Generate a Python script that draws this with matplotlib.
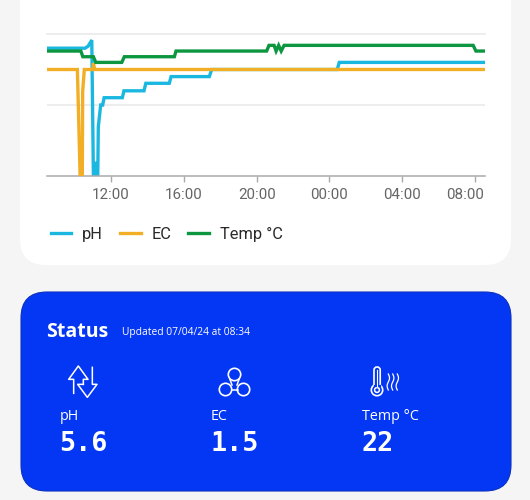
import numpy as np
import matplotlib
matplotlib.use('Agg')
from matplotlib import pyplot as plt
from matplotlib.patches import FancyBboxPatch, Circle
from matplotlib.transforms import ScaledTranslation

# hours since midnight of the first day
ph_hours = [8.48, 10.41, 10.57, 10.74, 10.94, 11.03, 11.07, 11.12, 11.18, 11.27, 11.30, 11.43, 11.54, 11.62,
            12.62, 12.71, 13.81, 13.91, 15.20, 15.30, 17.40, 17.53, 24.43, 24.54, 32.55]
ph_values = [6.3, 6.3, 6.3, 6.4, 6.7, 0, 0, 0.7, 0, 0, 2.43, 3.5, 3.5, 3.86,
             3.86, 4.2, 4.2, 4.57, 4.57, 4.9, 4.9, 5.25, 5.25, 5.6, 5.6]
ec_hours = [8.48, 10.15, 10.30, 10.42, 10.44, 10.53, 11.0, 11.03, 11.1, 32.55]
ec_values = [1.5, 1.5, 0, 0, 1.19, 1.5, 1.5, 1.59, 1.5, 1.5]
temp_hours = [8.48, 10.34, 10.45, 11.03, 11.16, 12.59, 12.73, 15.48, 15.57, 20.55, 20.68,
              20.96, 21.07, 21.21, 21.35, 21.51, 31.9, 32.05, 32.55]
temp_values = [22, 22, 21, 21, 20, 20, 21, 21, 22, 22, 23,
               23, 22, 23, 22, 23, 23, 22, 22]

tick_hours = [12, 16, 20, 24, 28, 32]
tick_labels = ['12:00', '16:00', '20:00', '00:00', '04:00', '08:00']
status_labels = ['pH', 'EC', 'Temp °C']
status_values = ['5.6', '1.5', '22']
status_x = [60, 211, 362]

BLUE = '#0437f4'
W, H = 530, 500
fig = plt.figure(figsize=(5.3, 5.0), dpi=100, facecolor='#f5f5f5')

# background layer in pixel coordinates
bg = fig.add_axes([0, 0, 1, 1])
bg.set_xlim(0, W)
bg.set_ylim(H, 0)
bg.axis('off')
bg.add_patch(FancyBboxPatch((20, -60), 491, 325, boxstyle='round,pad=0,rounding_size=26', fc='white', ec='none'))
bg.add_patch(FancyBboxPatch((21, 292), 490, 199, boxstyle='round,pad=0,rounding_size=26', fc=BLUE, ec='#0a30c0', lw=0.8))

# chart
ax = fig.add_axes([47 / W, 1 - 176 / H, (485 - 47) / W, 142 / H])
ax.patch.set_alpha(0)
ax_ec = ax.twinx()
ax_temp = ax.twinx()
l1, = ax.plot(ph_hours, ph_values, color='#1ab8e0', lw=2.4, solid_joinstyle='miter', label='pH')
l2, = ax_ec.plot(ec_hours, ec_values, color='#f2ae24', lw=2.4, solid_joinstyle='miter', label='EC')
l3, = ax_temp.plot(temp_hours, temp_values, color='#0c9640', lw=2.4, solid_joinstyle='miter', label='Temp °C')
ax.set_xlim(8.48, 32.55)
ax.set_ylim(0, 7)
ax_ec.set_ylim(0, 2)
ax_temp.set_ylim(0, 25)
for a in (ax_ec, ax_temp):
    a.axis('off')
for s in ['top', 'left', 'right']:
    ax.spines[s].set_visible(False)
ax.spines['bottom'].set_color('#aaaaaa')
ax.spines['bottom'].set_linewidth(1.1)
ax.set_yticks([])
ax.axhline(3.5, color='#e8e8e8', lw=1.1, zorder=0)
ax.axhline(7, color='#e8e8e8', lw=1.1, zorder=0, clip_on=False)
ax.set_xticks(tick_hours)
ax.set_xticklabels(tick_labels, family='Roboto', fontsize=10.9, color='#666666')
ax.tick_params(axis='x', length=4.5, width=1, color='#aaaaaa', pad=4)
# last label is pushed inside the plot edge
last = ax.get_xticklabels()[-1]
last.set_transform(last.get_transform() + ScaledTranslation(-10 / 100, 0, fig.dpi_scale_trans))

fig.legend(handles=[l1, l2, l3], loc='lower left', bbox_to_anchor=(51 / W, 1 - 242 / H), ncol=3, frameon=False,
           prop={'family': 'Roboto', 'size': 11.8}, labelcolor='#2a2a2a', handlelength=1.25, handletextpad=0.65,
           columnspacing=1.05, borderpad=0, borderaxespad=0)

# status card, on top of everything
top = fig.add_axes([0, 0, 1, 1])
top.set_xlim(0, W)
top.set_ylim(H, 0)
top.axis('off')
top.text(46, 332, 'Status', family='Open Sans', weight='bold', fontsize=14, color='white', va='center')
top.text(122.5, 332, 'Updated 07/04/24 at 08:34', family='Open Sans', fontsize=7.4, color='white', va='center')
for x, label, value in zip(status_x, status_labels, status_values):
    top.text(x - 0.5, 417, label, family='Open Sans', fontsize=10.3, color='white', va='center')
    top.text(x - 0.5, 444, value, family='DejaVu Sans Mono', weight='bold', fontsize=19.3, color='white', va='center')

# pH icon
up_x = np.array([161, 161, 146, 175, 204, 190, 190]) / 3 + 20
up_y = np.array([310, 268, 268, 228, 268, 268, 283]) / 3 + 290
dn_x = np.array([217, 217, 231, 202, 173, 190]) / 3 + 20
dn_y = np.array([232, 283, 283, 322, 283, 283]) / 3 + 290
top.plot(up_x, up_y, color='white', lw=1.1)
top.plot(dn_x, dn_y, color='white', lw=1.1)

# EC icon
for cx, cy in [(234.5, 374.5), (225.5, 389.5), (243.5, 389.5)]:
    top.add_patch(Circle((cx, cy), 6.2, fc='none', ec='white', lw=1.2))
top.plot([231.5, 237.5], [389.5, 389.5], color='white', lw=1.1)
top.plot([230, 232], [379.5, 385], color='white', lw=1.1)
top.plot([239, 237], [379.5, 385], color='white', lw=1.1)

# temp icon
top.add_patch(Circle((377, 390), 5.7, fc=BLUE, ec='white', lw=1.2))
top.add_patch(FancyBboxPatch((374, 367), 6.2, 20, boxstyle='round,pad=0,rounding_size=3', fc=BLUE, ec='white', lw=1.2))
top.plot([374.6, 379.6], [386, 386], color=BLUE, lw=1.6)
top.add_patch(Circle((377, 390), 2.4, fc='none', ec='white', lw=1.1))
top.plot([377, 377], [370, 386], color='white', lw=0.8)
wy = np.linspace(374, 390, 30)
for wx in [388.3, 392.7, 397.3]:
    top.plot(wx + 1.2 * np.sin((wy - 374) / 16 * 2 * np.pi), wy, color='white', lw=0.9)

fig.savefig('out.png', dpi=100, facecolor=fig.get_facecolor())
